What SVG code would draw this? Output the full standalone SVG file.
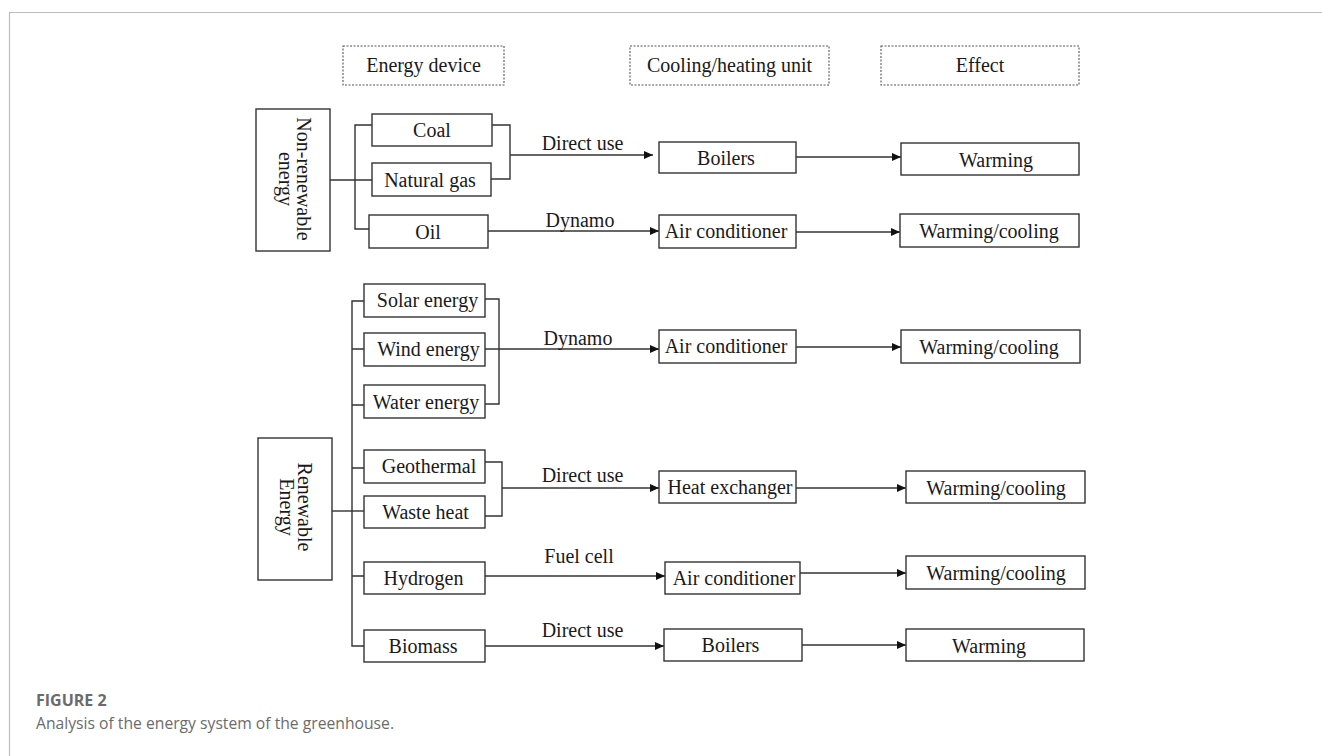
<svg xmlns="http://www.w3.org/2000/svg" width="1322" height="756" viewBox="0 0 1322 756">
<defs>
<style>
.box{fill:#fff;stroke:#333;stroke-width:1.4}
.hdr{fill:#fff;stroke:#555;stroke-width:1.1;stroke-dasharray:2 1.5}
.t{font-family:"Liberation Serif","Times New Roman",serif;font-size:20px;fill:#1a1a1a;text-anchor:middle}
.ln{fill:none;stroke:#333;stroke-width:1.4}
.ar{fill:none;stroke:#333;stroke-width:1.4;marker-end:url(#ah)}
.cap{font-family:"Open Sans","Noto Sans",sans-serif;fill:#6b6b6b}
</style>
<marker id="ah" markerUnits="userSpaceOnUse" markerWidth="9" markerHeight="8" refX="9" refY="4" orient="auto">
<path d="M0,0 L9,4 L0,8 z" fill="#111"/>
</marker>
</defs>
<rect width="1322" height="756" fill="#fff"/>
<path d="M9.5,756 V12.5 H1322" fill="none" stroke="#bdbdbd" stroke-width="1.2"/>

<g id="headers">
<g id="h-energy-device"><rect class="hdr" x="343" y="46" width="161" height="39"/><text class="t" x="423.5" y="72">Energy device</text></g>
<g id="h-unit"><rect class="hdr" x="630" y="46" width="199" height="39"/><text class="t" x="729.5" y="72">Cooling/heating unit</text></g>
<g id="h-effect"><rect class="hdr" x="881" y="46" width="198" height="39"/><text class="t" x="980" y="72">Effect</text></g>
</g>

<g id="connectors">
<path class="ln" d="M330,180 H372"/>
<path class="ln" d="M372,125 H355 V229 H369"/>
<path class="ln" d="M492,125 H510 V179 H491"/>
<path class="ar" d="M510,155 H653"/>
<path class="ar" d="M488,231 H659"/>
<path class="ar" d="M796,157 H901"/>
<path class="ar" d="M796,232 H900"/>
<path class="ln" d="M364,301 H352 V646 H364"/>
<path class="ln" d="M352,349 H364 M352,405 H364 M352,468 H364 M352,576 H364"/>
<path class="ln" d="M332,511 H364"/>
<path class="ln" d="M485,299 H499 V404 H485"/>
<path class="ar" d="M485,349 H659"/>
<path class="ar" d="M796,347 H901"/>
<path class="ln" d="M485,462 H502 V516 H485"/>
<path class="ar" d="M502,488 H659"/>
<path class="ar" d="M796,488 H906"/>
<path class="ar" d="M485,576 H665"/>
<path class="ar" d="M800,573 H906"/>
<path class="ar" d="M485,646 H664"/>
<path class="ar" d="M802,645 H906"/>
<text class="t" x="582.5" y="150">Direct use</text>
<text class="t" x="580" y="227">Dynamo</text>
<text class="t" x="578" y="345">Dynamo</text>
<text class="t" x="582.5" y="482">Direct use</text>
<text class="t" x="579" y="563">Fuel cell</text>
<text class="t" x="582.5" y="637">Direct use</text>
</g>

<g id="non-renewable">
<rect class="box" x="256" y="109" width="74" height="142"/>
<g transform="translate(293,179) rotate(90)"><text class="t" x="0" y="-4">Non-renewable</text><text class="t" x="0" y="14">energy</text></g>
</g>
<g id="renewable">
<rect class="box" x="258" y="438" width="74" height="142"/>
<g transform="translate(295,507) rotate(90)"><text class="t" x="0" y="-3">Renewable</text><text class="t" x="0" y="15">Energy</text></g>
</g>

<g id="coal"><rect class="box" x="372" y="114" width="120" height="32"/><text class="t" x="432" y="137">Coal</text></g>
<g id="natural-gas"><rect class="box" x="372" y="163" width="119" height="33"/><text class="t" x="430" y="187">Natural gas</text></g>
<g id="oil"><rect class="box" x="369" y="215" width="119" height="33"/><text class="t" x="428" y="239">Oil</text></g>

<g id="boilers-1"><rect class="box" x="659" y="142" width="137" height="31"/><text class="t" x="726" y="165">Boilers</text></g>
<g id="ac-1"><rect class="box" x="659" y="215" width="137" height="33"/><text class="t" x="726" y="238">Air conditioner</text></g>
<g id="warming-1"><rect class="box" x="901" y="143" width="178" height="32"/><text class="t" x="996" y="167">Warming</text></g>
<g id="wc-1"><rect class="box" x="900" y="214" width="179" height="33"/><text class="t" x="989" y="238">Warming/cooling</text></g>

<g id="solar"><rect class="box" x="364" y="284" width="121" height="33"/><text class="t" x="427.5" y="307">Solar energy</text></g>
<g id="wind"><rect class="box" x="364" y="333" width="121" height="33"/><text class="t" x="428.5" y="356">Wind energy</text></g>
<g id="water"><rect class="box" x="364" y="385" width="121" height="33"/><text class="t" x="426" y="409">Water energy</text></g>
<g id="ac-2"><rect class="box" x="659" y="330" width="137" height="33"/><text class="t" x="726" y="353">Air conditioner</text></g>
<g id="wc-2"><rect class="box" x="901" y="330" width="179" height="33"/><text class="t" x="989" y="354">Warming/cooling</text></g>

<g id="geothermal"><rect class="box" x="364" y="450" width="121" height="33"/><text class="t" x="429" y="473">Geothermal</text></g>
<g id="waste-heat"><rect class="box" x="364" y="496" width="121" height="32"/><text class="t" x="425.5" y="519">Waste heat</text></g>
<g id="heat-exchanger"><rect class="box" x="659" y="471" width="137" height="32"/><text class="t" x="730" y="494">Heat exchanger</text></g>
<g id="wc-3"><rect class="box" x="906" y="471" width="179" height="32"/><text class="t" x="996" y="495">Warming/cooling</text></g>

<g id="hydrogen"><rect class="box" x="364" y="562" width="121" height="32"/><text class="t" x="423.5" y="585">Hydrogen</text></g>
<g id="ac-3"><rect class="box" x="665" y="562" width="135" height="32"/><text class="t" x="734" y="585">Air conditioner</text></g>
<g id="wc-4"><rect class="box" x="906" y="556" width="179" height="33"/><text class="t" x="996" y="580">Warming/cooling</text></g>

<g id="biomass"><rect class="box" x="364" y="630" width="121" height="32"/><text class="t" x="423" y="653">Biomass</text></g>
<g id="boilers-2"><rect class="box" x="664" y="629" width="138" height="32"/><text class="t" x="730.5" y="652">Boilers</text></g>
<g id="warming-2"><rect class="box" x="906" y="629" width="178" height="32"/><text class="t" x="989" y="653">Warming</text></g>

<g id="caption">
<text class="cap" x="36" y="706" font-size="16" font-weight="bold">FIGURE 2</text>
<text class="cap" x="36" y="729" font-size="15.7">Analysis of the energy system of the greenhouse.</text>
</g>
</svg>
